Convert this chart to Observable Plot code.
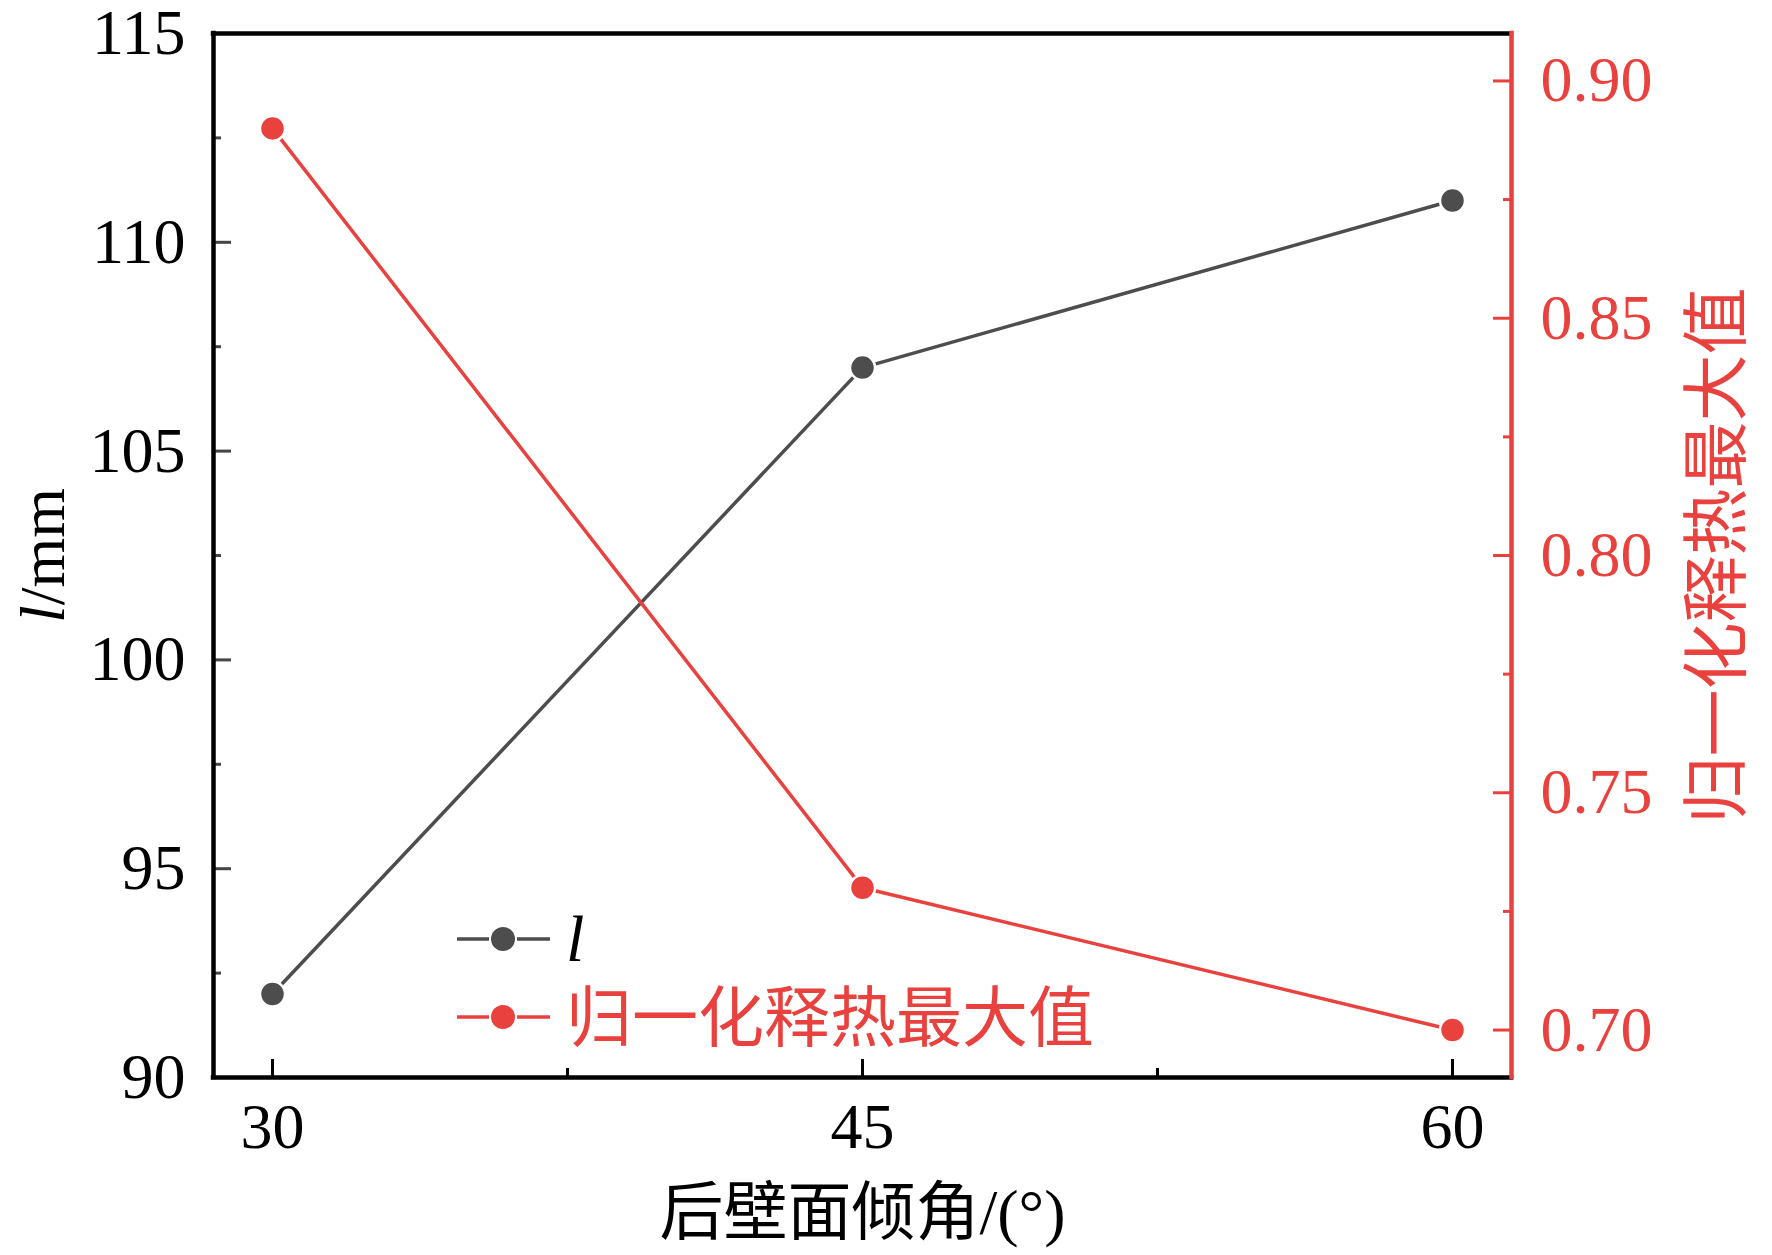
<!DOCTYPE html>
<html>
<head>
<meta charset="utf-8">
<script src="https://cdn.jsdelivr.net/npm/d3@7"></script>
<script src="https://cdn.jsdelivr.net/npm/@observablehq/plot@0.6"></script>
<style>
  html, body { margin: 0; padding: 0; background: #fff; }
  #chart { width: 1772px; height: 1255px; }
</style>
</head>
<body>
<div id="chart"></div>
<script>
// ---- data ----
const angles = [30, 45, 60];
const lengthMm = [92, 107, 111];
const heatMax = [0.89, 0.73, 0.70];

const xTicks = [30, 45, 60];
const xMinor = [37.5, 52.5];
const leftTicks = [90, 95, 100, 105, 110, 115];
const leftMinor = [92.5, 97.5, 102.5, 107.5, 112.5];
const rightTicks = [0.70, 0.75, 0.80, 0.85, 0.90];
const rightMinor = [0.725, 0.775, 0.825, 0.875];

const seriesNames = ["l", "归一化释热最大值"];
const xTitle = "后壁面倾角/(°)";
const yTitle = "l/mm";
const y2Title = "归一化释热最大值";

// ---- scales ----
const xDomain = [28.5, 61.5];
const yDomain = [90, 115];
const y2Domain = [0.69, 0.91];
const toLeft = v => yDomain[0] + (v - y2Domain[0]) / (y2Domain[1] - y2Domain[0]) * (yDomain[1] - yDomain[0]);
const fromLeft = d => y2Domain[0] + (d - yDomain[0]) / (yDomain[1] - yDomain[0]) * (y2Domain[1] - y2Domain[0]);

const GREY = "#4d4d4d";
const RED = "#e8413e";
const FONT = "'Liberation Serif', 'Noto Sans CJK SC', serif";
const CJK = "'Noto Sans CJK SC', 'Liberation Serif', sans-serif";

const lData = angles.map((a, i) => ({x: a, y: lengthMm[i]}));
const hData = angles.map((a, i) => ({x: a, y: toLeft(heatMax[i])}));

const plot = Plot.plot({
  width: 1772,
  height: 1255,
  marginLeft: 213,
  marginRight: 261,
  marginTop: 33,
  marginBottom: 178,
  x: {domain: xDomain},
  y: {domain: yDomain},
  style: {fontFamily: FONT, fontSize: "64px", background: "white", color: "black", overflow: "visible"},
  marks: [
    // axes: labels
    Plot.axisX({ticks: xTicks, tickSize: 0, tickPadding: 25, label: null, fontSize: 64, fontFamily: FONT, fill: "black"}),
    Plot.axisY({ticks: leftTicks, tickSize: 0, tickPadding: 28, label: null, fontSize: 64, fontFamily: FONT, fill: "black"}),
    Plot.axisY({anchor: "right", ticks: rightTicks.map(toLeft), tickFormat: d => fromLeft(d).toFixed(2),
      tickSize: 0, tickPadding: 29, label: null, fontSize: 64, fontFamily: FONT, fill: RED}),
    // axes: inward ticks (no text)
    Plot.axisX({ticks: xTicks, tickSize: -18, label: null, fill: "none", stroke: "black", strokeWidth: 3}),
    Plot.axisX({ticks: xMinor, tickSize: -9, label: null, fill: "none", stroke: "black", strokeWidth: 3}),
    Plot.axisY({ticks: leftTicks, tickSize: -18, label: null, fill: "none", stroke: "#444", strokeWidth: 3}),
    Plot.axisY({ticks: leftMinor, tickSize: -8, label: null, fill: "none", stroke: "#444", strokeWidth: 3}),
    Plot.axisY({anchor: "right", ticks: rightTicks.map(toLeft), tickSize: -19, label: null, fill: "none", stroke: RED, strokeWidth: 3}),
    Plot.axisY({anchor: "right", ticks: rightMinor.map(toLeft), tickSize: -9, label: null, fill: "none", stroke: RED, strokeWidth: 3}),
    // frame
    Plot.ruleY([yDomain[1]], {stroke: "black", strokeWidth: 4.5, strokeLinecap: "square"}),
    Plot.ruleY([yDomain[0]], {stroke: "black", strokeWidth: 4.5, strokeLinecap: "square"}),
    Plot.ruleX([xDomain[0]], {stroke: "black", strokeWidth: 4.5, strokeLinecap: "square"}),
    Plot.ruleX([xDomain[1]], {stroke: RED, strokeWidth: 4.5, strokeLinecap: "square"}),
    // data
    Plot.line(lData, {x: "x", y: "y", stroke: GREY, strokeWidth: 3.5}),
    Plot.line(hData, {x: "x", y: "y", stroke: RED, strokeWidth: 3.5}),
    Plot.dot(lData, {x: "x", y: "y", r: 12.5, fill: GREY, stroke: "white", strokeWidth: 2.5}),
    Plot.dot(hData, {x: "x", y: "y", r: 12.5, fill: RED, stroke: "white", strokeWidth: 2.5}),
    // titles
    Plot.text([xTitle], {text: d => d, frameAnchor: "bottom", dy: 136, textAnchor: "middle", lineAnchor: "middle", fontSize: 64, fontFamily: FONT, fill: "black"}),
    Plot.text([yTitle], {text: d => d, frameAnchor: "left", dx: -170, rotate: -90, textAnchor: "middle", lineAnchor: "middle", fontSize: 64, fontFamily: FONT, fill: "black"}),
    Plot.text([y2Title], {text: d => d, frameAnchor: "right", dx: 207, rotate: -90, textAnchor: "middle", lineAnchor: "middle", fontSize: 67, fontFamily: CJK, fill: RED})
  ]
});

// italic "l" in the y title
d3.select(plot).selectAll("text").each(function() {
  if (this.textContent === yTitle) {
    const t = d3.select(this);
    t.text(null);
    t.append("tspan").attr("font-style", "italic").text("l");
    t.append("tspan").text("/mm");
  }
});

// legend inside the plot area
const legend = d3.select(plot).append("g").attr("class", "legend").attr("text-anchor", "start");
const legendItems = [
  {name: seriesNames[0], color: GREY, textFill: "black", italic: true, font: FONT, size: 66, y: 939},
  {name: seriesNames[1], color: RED, textFill: RED, italic: false, font: CJK, size: 66, y: 1017}
];
legendItems.forEach(it => {
  const g = legend.append("g");
  g.append("line").attr("x1", 457).attr("x2", 489).attr("y1", it.y).attr("y2", it.y)
    .attr("stroke", it.color).attr("stroke-width", 3.5);
  g.append("line").attr("x1", 517).attr("x2", 550).attr("y1", it.y).attr("y2", it.y)
    .attr("stroke", it.color).attr("stroke-width", 3.5);
  g.append("circle").attr("cx", 503).attr("cy", it.y).attr("r", 12).attr("fill", it.color);
  g.append("text").attr("x", 566).attr("y", it.y).attr("dy", it.italic ? "0.34em" : "0.37em")
    .attr("text-anchor", "start")
    .attr("font-family", it.font).attr("font-size", it.size)
    .attr("font-style", it.italic ? "italic" : "normal")
    .attr("fill", it.textFill).text(it.name);
});

document.getElementById("chart").appendChild(plot);
</script>
</body>
</html>
